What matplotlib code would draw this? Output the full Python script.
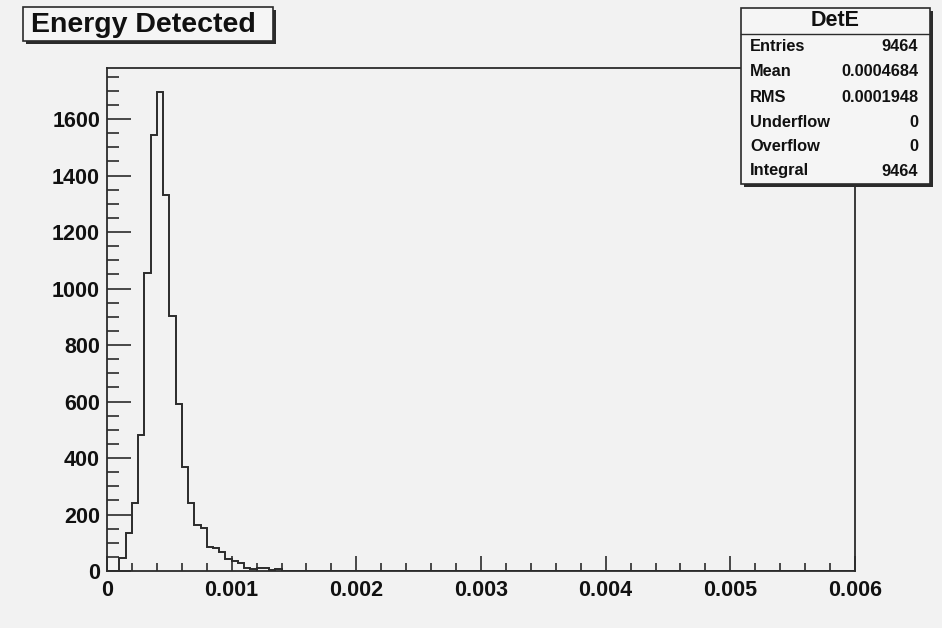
import matplotlib
matplotlib.use("Agg")
import matplotlib.pyplot as plt
from matplotlib.patches import Rectangle
from matplotlib.ticker import MultipleLocator, FixedLocator
import numpy as np

# ---- data ----
x_min, x_max, n_bins = 0.0, 0.006, 120
counts = [0, 0, 47, 135, 242, 482, 1055, 1545, 1696, 1331, 903, 591, 367, 241,
          164, 153, 86, 80, 68, 42, 37, 27, 12, 7, 9, 12, 4, 7, 0, 0, 1]
counts = counts + [0] * (n_bins - len(counts))
x_ticks = [0, 0.001, 0.002, 0.003, 0.004, 0.005, 0.006]
x_tick_labels = ["0", "0.001", "0.002", "0.003", "0.004", "0.005", "0.006"]
y_ticks = [0, 200, 400, 600, 800, 1000, 1200, 1400, 1600]
title = "Energy Detected"
stats_name = "DetE"
stats_labels = ["Entries", "Mean", "RMS", "Underflow", "Overflow", "Integral"]
stats_values = ["9464", "0.0004684", "0.0001948", "0", "0", "9464"]

# ---- figure ----
W, H = 942, 628
BG = "#f2f2f2"
LC = "#2b2b2b"
FONT = "Liberation Sans"
fig = plt.figure(figsize=(W / 100, H / 100), dpi=100, facecolor=BG)

def fx(x):
    return x / W

def fy(y):
    return 1 - y / H

L, R, T, B = 107, 855, 68, 571
ax = fig.add_axes([fx(L), fy(B), fx(R) - fx(L), fy(T) - fy(B)], facecolor=BG)

edges = np.linspace(x_min, x_max, n_bins + 1)
ax.stairs(counts, edges, color=LC, linewidth=1.4, baseline=0)

ax.set_xlim(x_min, x_max)
ax.set_ylim(0, max(counts) * 1.05)

ax.xaxis.set_major_locator(FixedLocator(x_ticks))
ax.xaxis.set_minor_locator(MultipleLocator(0.0002))
ax.set_xticklabels(x_tick_labels)
ax.yaxis.set_major_locator(FixedLocator(y_ticks))
ax.yaxis.set_minor_locator(MultipleLocator(50))
ax.set_yticklabels([str(v) for v in y_ticks])

ax.tick_params(axis="both", which="both", direction="in", color=LC,
               top=False, right=False)
ax.tick_params(axis="x", which="major", length=11, width=1.2, pad=6.5)
ax.tick_params(axis="x", which="minor", length=5.5, width=1.2)
ax.tick_params(axis="y", which="major", length=17, width=1.2, pad=5)
ax.tick_params(axis="y", which="minor", length=8.5, width=1.2)
for lab in ax.get_xticklabels() + ax.get_yticklabels():
    lab.set_fontfamily(FONT)
    lab.set_fontweight("bold")
    lab.set_fontsize(15.5)
    lab.set_color("#111111")
for sp in ax.spines.values():
    sp.set_color(LC)
    sp.set_linewidth(1.3)

# ---- boxes ----
def shadow_box(x0, y0, x1, y1, off=2.5):
    sh = Rectangle((fx(x0 + off), fy(y1 + off)), fx(x1 - x0), (y1 - y0) / H,
                   transform=fig.transFigure, facecolor=LC, edgecolor="none",
                   zorder=10)
    bx = Rectangle((fx(x0), fy(y1)), fx(x1 - x0), (y1 - y0) / H,
                   transform=fig.transFigure, facecolor="#f5f5f5",
                   edgecolor=LC, linewidth=1.2, zorder=11)
    fig.add_artist(sh)
    fig.add_artist(bx)

# title box
shadow_box(23, 7, 273, 41)
fig.text(fx(143), fy(24.5), title, ha="center", va="center", fontfamily=FONT,
         fontweight="bold", fontsize=20.5, color="#111111", zorder=12)

# stats box
sx0, sy0, sx1, sy1 = 741, 8, 930, 184
shadow_box(sx0, sy0, sx1, sy1)
fig.add_artist(plt.Line2D([fx(sx0), fx(sx1)], [fy(33.5), fy(33.5)],
                          transform=fig.transFigure, color=LC, linewidth=1.0,
                          zorder=12))
fig.text(fx(835), fy(21), stats_name, ha="center", va="center", fontfamily=FONT,
         fontweight="bold", fontsize=15.5, color="#111111", zorder=12)
row_y = [46.5, 71.5, 97, 122, 146.5, 171]
for lab, val, yy in zip(stats_labels, stats_values, row_y):
    fig.text(fx(750), fy(yy), lab, ha="left", va="center", fontfamily=FONT,
             fontweight="bold", fontsize=11.8, color="#111111", zorder=12)
    fig.text(fx(918), fy(yy), val, ha="right", va="center", fontfamily=FONT,
             fontweight="bold", fontsize=11.8, color="#111111", zorder=12)

fig.savefig("out.png", dpi=100, facecolor=BG)
